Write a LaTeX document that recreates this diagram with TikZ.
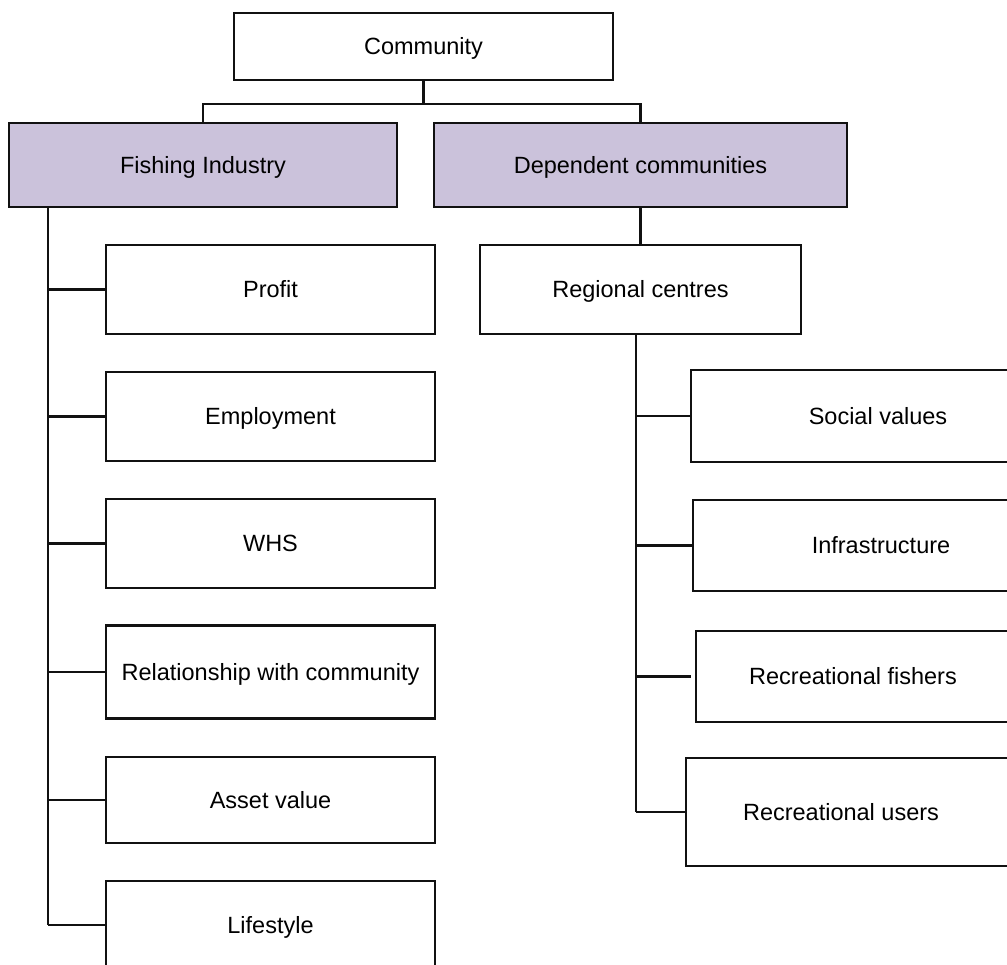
\documentclass[tikz,border=0pt]{standalone}
\usepackage{fontspec}
\setmainfont{Liberation Sans}
\usetikzlibrary{calc}
\definecolor{headfill}{RGB}{203,194,219}
\definecolor{inkline}{RGB}{17,17,17}
\begin{document}
\begin{tikzpicture}[x=1pt,y=-1pt,
  txt/.style={font=\fontsize{23.5}{28}\selectfont, text height=16.8pt, text depth=0pt},
  box/.style={txt, draw=inkline, line width=2.5pt, fill=white, inner sep=0pt},
  head/.style={box, fill=headfill},
  link/.style={draw=inkline, line width=2.5pt}]
\useasboundingbox (0,0) rectangle (1007,965);
\fill[white] (0,0) rectangle (1007,965);
\clip (0,0) rectangle (1007,965);

% top level
\node[box, minimum width=379pt, minimum height=67pt] (comm) at (423.5,46.5) {Community};
\node[head, minimum width=388pt, minimum height=84pt] (fish) at (203,165) {Fishing Industry};
\node[head, minimum width=413pt, minimum height=84pt] (dep) at (640.5,165) {Dependent communities};

% fishing industry branches
\node[box, minimum width=329pt, minimum height=89pt] (profit) at (270.5,289.5) {Profit};
\node[box, minimum width=329pt, minimum height=89pt] (employ) at (270.5,416.5) {Employment};
\node[box, minimum width=329pt, minimum height=89pt] (whs) at (270.5,543.5) {WHS};
\node[box, minimum width=329pt, minimum height=93pt] (relat) at (270.5,672) {Relationship with community};
\node[box, minimum width=329pt, minimum height=86pt] (asset) at (270.5,800) {Asset value};
\node[box, minimum width=329pt, minimum height=88pt] (life) at (270.5,925) {Lifestyle};

% dependent communities branches
\node[box, minimum width=321pt, minimum height=89pt] (reg) at (640.5,289.5) {Regional centres};
\node[box, minimum width=374pt, minimum height=92pt] (social) at (878,416) {Social values};
\node[box, minimum width=376pt, minimum height=91pt] (infra) at (881,545.5) {Infrastructure};
\node[box, minimum width=314pt, minimum height=91pt] (recfish) at (853,676.5) {Recreational fishers};
\node[box, minimum width=324pt, minimum height=108pt] (recuse) at (848,812) {};
\node[txt, inner sep=0pt] (recusetext) at (841,812) {Recreational users};

% connectors from the top box
\coordinate (bus) at (423.5,104);
\draw[link] (comm.south) -- (bus);
\draw[link] (fish.north) |- (bus) -| (dep.north);

% fishing industry spine
\coordinate (fspine) at (48,925);
\draw[link] (fish.south -| fspine) -- (fspine);
\foreach \b in {profit,employ,whs,relat,asset,life}
  \draw[link] (\b.west) -- (\b.west -| fspine);

% dependent communities
\draw[link] (dep.south -| reg.north) -- (reg.north);
\coordinate (rspine) at (636,812);
\draw[link] (reg.south -| rspine) -- (rspine);
\draw[link] (rspine |- social.west) -- (social.west);
\draw[link] (rspine |- infra.west) -- (infra.west);
\draw[link] (rspine |- recfish.west) -- ($(recfish.west)+(-4,0)$);
\draw[link] (rspine) -- (recuse.west);
\end{tikzpicture}
\end{document}
